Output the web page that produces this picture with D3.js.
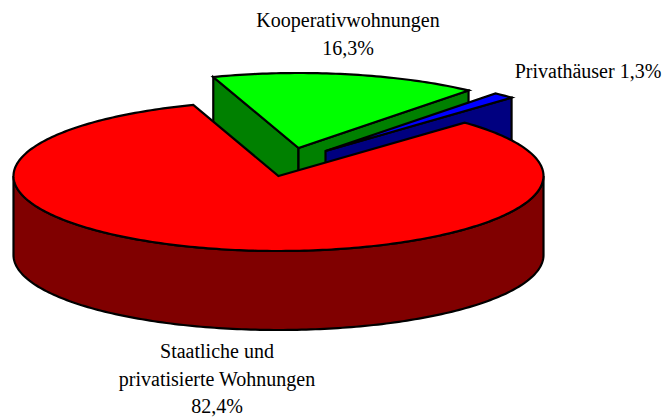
<!DOCTYPE html>
<html>
<head>
<meta charset="utf-8">
<script src="https://cdn.jsdelivr.net/npm/d3@7"></script>
<style>
    html, body { margin: 0; padding: 0; background: #fff; }
    svg { display: block; }
    text { font-family: "Liberation Serif", serif; font-size: 20px; fill: #000; text-anchor: middle; }
</style>
</head>
<body>
<div id="chart"></div>
<script>
// chart data
var categories = ["Staatliche und privatisierte Wohnungen", "Kooperativwohnungen", "Privathäuser"];
var shares = [82.4, 16.3, 1.3];
var topColors = ["#ff0000", "#00ff00", "#0000ff"];
var wallColors = ["#800000", "#008000", "#000080"];

// Define dimensions of vis
var width = 665, height = 419;
var cx = 278.5, cy = 176, rx = 265, ry = 75, depth = 79;
var toRad = Math.PI / 180;

var svg = d3.select("#chart").append("svg")
    .attr("width", width)
    .attr("height", height);

var xScale = d3.scaleLinear().domain([-1, 1]).range([cx - rx, cx + rx]);
var yScale = d3.scaleLinear().domain([-1, 1]).range([cy + ry, cy - ry]);

// first slice starts a bit right of the top, angle runs clockwise
var slices = d3.pie().sort(null).startAngle(44.6 * toRad).endAngle((360 + 44.6) * toRad)(shares);

// how far each slice is pulled out of the pie
var explode = [[0, 0], [20, -28], [47, -25]];

function rimPoint(i, a, drop) {
    return [xScale(Math.sin(a)) + explode[i][0], yScale(Math.cos(a)) + explode[i][1] + (drop || 0)];
}

function apex(i, drop) {
    return [xScale(0) + explode[i][0], yScale(0) + explode[i][1] + (drop || 0)];
}

function arcPoints(i, a0, a1, drop) {
    var n = Math.max(2, Math.ceil(Math.abs(a1 - a0) / toRad));
    return d3.range(n + 1).map(function(k) {
        return rimPoint(i, a0 + (a1 - a0) * k / n, drop);
    });
}

var pathLine = d3.line();

function drawShape(points, fill) {
    svg.append("path")
        .attr("d", pathLine(points) + "Z")
        .attr("fill", fill)
        .attr("stroke", "#000")
        .attr("stroke-width", 2.2);
}

// flat side of a slice, from the centre out to the rim
function sideWall(i, a) {
    drawShape([apex(i), rimPoint(i, a), rimPoint(i, a, depth), apex(i, depth)], wallColors[i]);
}

function sliceTop(i) {
    drawShape([apex(i)].concat(arcPoints(i, slices[i].startAngle, slices[i].endAngle)), topColors[i]);
}

// back to front: green, blue, red
sideWall(1, slices[1].startAngle);
sideWall(1, slices[1].endAngle);
sliceTop(1);

sideWall(2, slices[2].endAngle);
sliceTop(2);

// front rim of the big slice
drawShape(arcPoints(0, 90 * toRad, 270 * toRad).concat(arcPoints(0, 270 * toRad, 90 * toRad, depth)), wallColors[0]);
sliceTop(0);

// labels
function pct(v) { return String(v).replace(".", ","); }

function addLabel(x, y, lines) {
    lines.forEach(function(t, i) {
        svg.append("text")
            .attr("x", x)
            .attr("y", y + i * 27.5)
            .text(t);
    });
}

addLabel(348, 27, [categories[1], pct(shares[1]) + "%"]);
addLabel(588, 78, [categories[2] + " " + pct(shares[2]) + "%"]);
addLabel(217, 358, ["Staatliche und", "privatisierte Wohnungen", pct(shares[0]) + "%"]);
</script>
</body>
</html>
